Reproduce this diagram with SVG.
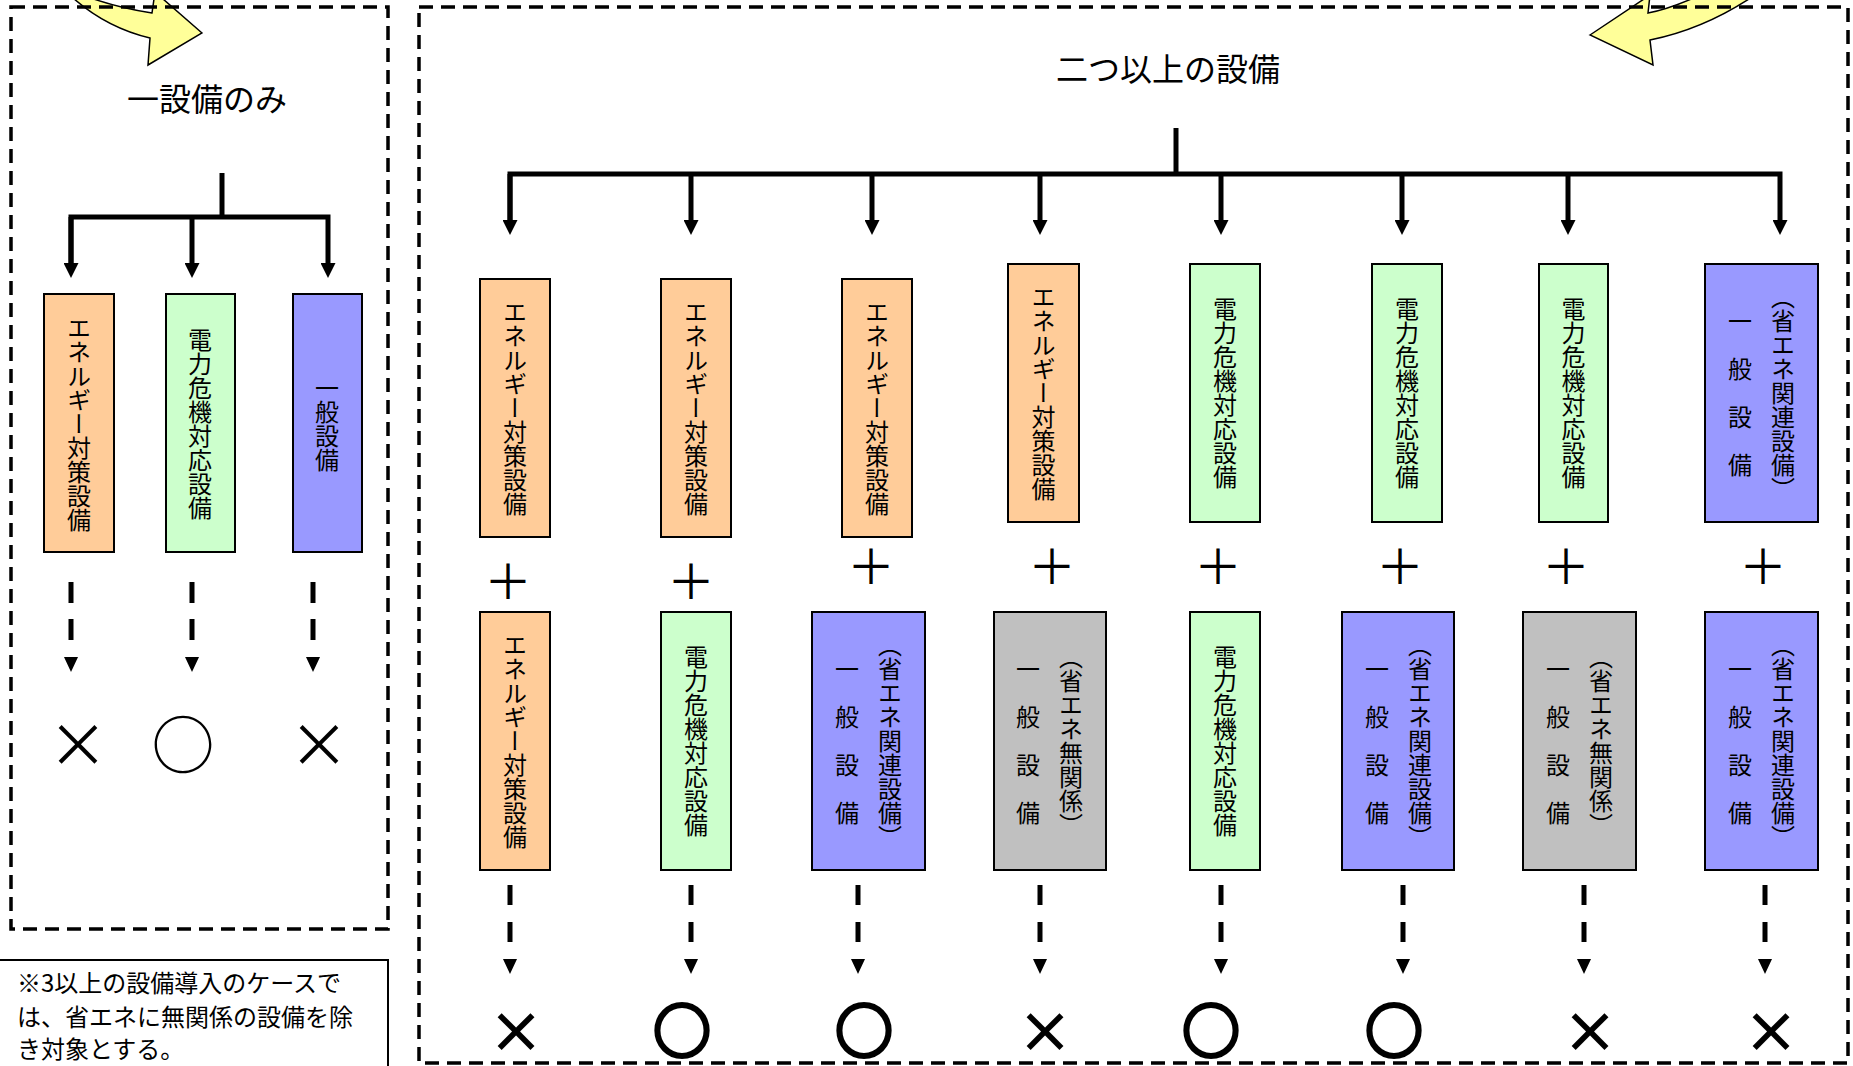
<svg xmlns="http://www.w3.org/2000/svg" xmlns:xlink="http://www.w3.org/1999/xlink" width="1853" height="1066" viewBox="0 0 1853 1066">
<defs>
<style>
text{font-family:"Noto Sans CJK JP","Noto Sans CJK SC",sans-serif;fill:#000}
.v{writing-mode:vertical-rl;font-size:24px;text-anchor:middle}
.ttl{font-size:32px;text-anchor:middle}
.note{font-size:24px}
.box{stroke:#000;stroke-width:2}
.or{fill:#FFCC99}.gr{fill:#CCFFCC}.bl{fill:#9999FF}.gy{fill:#C0C0C0}
.frame{fill:none;stroke:#000;stroke-width:3.5;stroke-dasharray:14 8}
.conn{fill:none;stroke:#000;stroke-width:5}
.dl{fill:none;stroke:#000;stroke-width:5}
.sym{text-anchor:middle;dominant-baseline:central}
.plus{font-size:48px}
.ok1{font-size:63px}
.ng1{font-size:60px}
.ok2{font-size:57px;stroke:#000;stroke-width:4}
.ng2{font-size:56px;font-weight:bold}
.yarrow{fill:#FFFF99;stroke:#000;stroke-width:1.5;stroke-linejoin:miter}
</style>
<marker id="ah" viewBox="0 0 15 15" refX="0" refY="7.5" markerWidth="15" markerHeight="15" markerUnits="userSpaceOnUse" orient="auto"><path d="M0,0 L15,7.5 L0,15 z" fill="#000"/></marker>
<path id="tri" d="M-7,0 L7,0 L0,15 z" fill="#000"/>
</defs>
<rect width="1853" height="1066" fill="#fff"/>

<g id="curved-arrows">
<path class="yarrow" d="M202,33 L155,-8 L152,13 Q100,5 60,-15 L55,-20 Q95,25 150,38 L148,65 Z"/>
<path class="yarrow" d="M1590,35 L1650,-5 L1648,13 Q1675,8 1715,-12 L1765,-12 Q1710,28 1650,40 L1653,65 Z"/>
</g>

<g id="frames">
<rect class="frame" x="11" y="7" width="377" height="922"/>
<rect class="frame" x="419" y="7" width="1429" height="1056"/>
</g>

<g id="note">
<rect x="-5" y="960" width="393" height="120" fill="#fff" stroke="#000" stroke-width="2"/>
<text class="note" x="17" y="992">※3以上の設備導入のケースで</text>
<text class="note" x="17" y="1026">は、省エネに無関係の設備を除</text>
<text class="note" x="17" y="1058">き対象とする。</text>
</g>

<g id="titles">
<text id="title-single" class="ttl" x="207" y="111">一設備のみ</text>
<text id="title-multi" class="ttl" x="1168" y="81">二つ以上の設備</text>
</g>

<g id="connectors">
<path class="conn" d="M222,173 V217"/>
<path class="conn" d="M71,263 V217 H328 V263" marker-end="url(#ah)"/>
<path class="conn" d="M71,217 V263" marker-end="url(#ah)"/>
<path class="conn" d="M192,217 V263" marker-end="url(#ah)"/>
<path class="conn" d="M1176,128 V174"/>
<path class="conn" d="M510,220 V174 H1780 V220" marker-end="url(#ah)"/>
<path class="conn" d="M510,174 V220" marker-end="url(#ah)"/>
<path class="conn" d="M691,174 V220" marker-end="url(#ah)"/>
<path class="conn" d="M872,174 V220" marker-end="url(#ah)"/>
<path class="conn" d="M1040,174 V220" marker-end="url(#ah)"/>
<path class="conn" d="M1221,174 V220" marker-end="url(#ah)"/>
<path class="conn" d="M1402,174 V220" marker-end="url(#ah)"/>
<path class="conn" d="M1568,174 V220" marker-end="url(#ah)"/>
<g id="result-arrows-left">
<path class="dl" d="M71,582 V640" stroke-dasharray="21 16"/>
<path class="dl" d="M192,582 V640" stroke-dasharray="21 16"/>
<path class="dl" d="M313,582 V640" stroke-dasharray="21 16"/>
<use xlink:href="#tri" x="71" y="657"/>
<use xlink:href="#tri" x="192" y="657"/>
<use xlink:href="#tri" x="313" y="657"/>
</g>
<g id="result-arrows-right">
<path class="dl" d="M510,885 V943" stroke-dasharray="20 17"/>
<path class="dl" d="M691,885 V943" stroke-dasharray="20 17"/>
<path class="dl" d="M858,885 V943" stroke-dasharray="20 17"/>
<path class="dl" d="M1040,885 V943" stroke-dasharray="20 17"/>
<path class="dl" d="M1221,885 V943" stroke-dasharray="20 17"/>
<path class="dl" d="M1403,885 V943" stroke-dasharray="20 17"/>
<path class="dl" d="M1584,885 V943" stroke-dasharray="20 17"/>
<path class="dl" d="M1765,885 V943" stroke-dasharray="20 17"/>
<use xlink:href="#tri" x="510" y="959"/>
<use xlink:href="#tri" x="691" y="959"/>
<use xlink:href="#tri" x="858" y="959"/>
<use xlink:href="#tri" x="1040" y="959"/>
<use xlink:href="#tri" x="1221" y="959"/>
<use xlink:href="#tri" x="1403" y="959"/>
<use xlink:href="#tri" x="1584" y="959"/>
<use xlink:href="#tri" x="1765" y="959"/>
</g>
</g>

<g id="single-energy"><rect class="box or" x="44" y="294" width="70" height="258"/><text class="v" x="79" y="424">エネルギー対策設備</text></g>
<g id="single-power"><rect class="box gr" x="166" y="294" width="69" height="258"/><text class="v" x="200" y="424">電力危機対応設備</text></g>
<g id="single-general"><rect class="box bl" x="293" y="294" width="69" height="258"/><text class="v" x="327" y="424">一般設備</text></g>

<g id="single-results">
<text class="sym ng1" x="78" y="740">×</text>
<text class="sym ok1" x="183" y="740">○</text>
<text class="sym ng1" x="319" y="740">×</text>
</g>

<g id="top-1"><rect class="box or" x="480" y="279" width="70" height="258"/><text class="v" x="515" y="408">エネルギー対策設備</text></g>
<g id="top-2"><rect class="box or" x="661" y="279" width="70" height="258"/><text class="v" x="696" y="408">エネルギー対策設備</text></g>
<g id="top-3"><rect class="box or" x="842" y="279" width="70" height="258"/><text class="v" x="877" y="408">エネルギー対策設備</text></g>
<g id="top-4"><rect class="box or" x="1008" y="264" width="71" height="258"/><text class="v" x="1043.5" y="393">エネルギー対策設備</text></g>
<g id="top-5"><rect class="box gr" x="1190" y="264" width="70" height="258"/><text class="v" x="1225" y="393">電力危機対応設備</text></g>
<g id="top-6"><rect class="box gr" x="1372" y="264" width="70" height="258"/><text class="v" x="1407" y="393">電力危機対応設備</text></g>
<g id="top-7"><rect class="box gr" x="1539" y="264" width="69" height="258"/><text class="v" x="1573.5" y="393">電力危機対応設備</text></g>
<g id="top-8"><rect class="box bl" x="1705" y="264" width="113" height="258"/><text class="v" x="1783" y="393">（省エネ関連設備）</text><text class="v" x="1740" y="393">一　般　設　備</text></g>

<g id="plus-signs">
<text class="sym plus" x="508" y="578">＋</text>
<text class="sym plus" x="691" y="578">＋</text>
<text class="sym plus" x="871" y="563">＋</text>
<text class="sym plus" x="1052" y="563">＋</text>
<text class="sym plus" x="1218" y="563">＋</text>
<text class="sym plus" x="1400" y="563">＋</text>
<text class="sym plus" x="1566" y="563">＋</text>
<text class="sym plus" x="1763" y="563">＋</text>
</g>

<g id="bottom-1"><rect class="box or" x="480" y="612" width="70" height="258"/><text class="v" x="515" y="741">エネルギー対策設備</text></g>
<g id="bottom-2"><rect class="box gr" x="661" y="612" width="70" height="258"/><text class="v" x="696" y="741">電力危機対応設備</text></g>
<g id="bottom-3"><rect class="box bl" x="812" y="612" width="113" height="258"/><text class="v" x="890" y="741">（省エネ関連設備）</text><text class="v" x="847" y="741">一　般　設　備</text></g>
<g id="bottom-4"><rect class="box gy" x="994" y="612" width="112" height="258"/><text class="v" x="1071" y="741">（省エネ無関係）</text><text class="v" x="1028" y="741">一　般　設　備</text></g>
<g id="bottom-5"><rect class="box gr" x="1190" y="612" width="70" height="258"/><text class="v" x="1225" y="741">電力危機対応設備</text></g>
<g id="bottom-6"><rect class="box bl" x="1342" y="612" width="112" height="258"/><text class="v" x="1420" y="741">（省エネ関連設備）</text><text class="v" x="1377" y="741">一　般　設　備</text></g>
<g id="bottom-7"><rect class="box gy" x="1523" y="612" width="113" height="258"/><text class="v" x="1601" y="741">（省エネ無関係）</text><text class="v" x="1558" y="741">一　般　設　備</text></g>
<g id="bottom-8"><rect class="box bl" x="1705" y="612" width="113" height="258"/><text class="v" x="1783" y="741">（省エネ関連設備）</text><text class="v" x="1740" y="741">一　般　設　備</text></g>

<g id="multi-results">
<text class="sym ng2" x="516" y="1028">×</text>
<text class="sym ok2" x="682" y="1027">○</text>
<text class="sym ok2" x="864" y="1027">○</text>
<text class="sym ng2" x="1045" y="1028">×</text>
<text class="sym ok2" x="1211" y="1027">○</text>
<text class="sym ok2" x="1394" y="1027">○</text>
<text class="sym ng2" x="1590" y="1028">×</text>
<text class="sym ng2" x="1771" y="1028">×</text>
</g>
</svg>
